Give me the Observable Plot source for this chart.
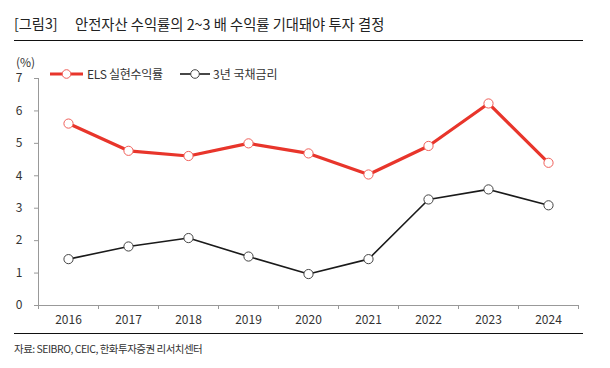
<!DOCTYPE html>
<html><head><meta charset="utf-8">
<script src="https://cdn.jsdelivr.net/npm/d3@7"></script>
<script src="https://cdn.jsdelivr.net/npm/@observablehq/plot@0.6"></script>
<style>
body{margin:0;background:#fff;font-family:"Noto Sans CJK KR","Noto Sans",sans-serif;}
#wrap{position:relative;width:610px;height:368px;overflow:hidden;}
#chart{position:absolute;left:0;top:0;}
.abs{position:absolute;white-space:nowrap;color:#222;}
</style></head>
<body><div id="wrap"><div id="chart"></div></div>
<script>
const years = [2016, 2017, 2018, 2019, 2020, 2021, 2022, 2023, 2024];
const elsReturn = [5.61, 4.77, 4.61, 5.00, 4.69, 4.04, 4.92, 6.23, 4.40];
const bondYield = [1.43, 1.82, 2.08, 1.51, 0.97, 1.43, 3.27, 3.58, 3.09];
const yTicks = [0, 1, 2, 3, 4, 5, 6, 7];
const seriesNames = ["ELS 실현수익률", "3년 국채금리"];
const titleTag = "[그림3]";
const titleText = "안전자산 수익률의 2~3 배 수익률 기대돼야 투자 결정";
const sourceText = "자료: SEIBRO, CEIC, 한화투자증권 리서치센터";

const data = years.map((y, i) => ({year: y, els: elsReturn[i], bond: bondYield[i]}));
const bounds = [years[0] - 0.5, ...years.map(y => y + 0.5)];
const red = "#e8352b";

const plot = Plot.plot({
  width: 610, height: 368,
  marginTop: 78, marginBottom: 63, marginLeft: 38, marginRight: 32,
  style: {fontFamily: '"Noto Sans CJK KR","Noto Sans",sans-serif', fontSize: "12px", color: "#333", background: "transparent"},
  x: {type: "linear", domain: [bounds[0], bounds[bounds.length - 1]]},
  y: {domain: [0, 7]},
  marks: [
    Plot.ruleX([bounds[0]], {stroke: "#999", strokeWidth: 1}),
    Plot.ruleY([0], {stroke: "#999", strokeWidth: 1}),
    Plot.axisY({ticks: yTicks, tickSize: 4, tickPadding: 12, stroke: "#999", label: null, tickFormat: d => String(d), fill: "#333"}),
    Plot.axisX({ticks: bounds, tickSize: 4, tickFormat: () => "", stroke: "#999", label: null}),
    Plot.axisX({ticks: years, tickSize: 0, tickPadding: 10, tickFormat: d => String(d), label: null, fill: "#333"}),
    Plot.line(data, {x: "year", y: "bond", stroke: "#1a1a1a", strokeWidth: 1.6}),
    Plot.line(data, {x: "year", y: "els", stroke: red, strokeWidth: 3.2}),
    Plot.dot(data, {x: "year", y: "bond", r: 4.6, fill: "#fff", stroke: "#444", strokeWidth: 1}),
    Plot.dot(data, {x: "year", y: "els", r: 4.6, fill: "#fff", stroke: "#f0605a", strokeWidth: 1})
  ]
});
document.getElementById("chart").appendChild(plot);

const wrap = document.getElementById("wrap");
function addDiv(html, css) { const d = document.createElement("div"); d.className = "abs"; d.style.cssText = css; d.innerHTML = html; wrap.appendChild(d); return d; }
addDiv(titleTag, "left:14px;top:13px;font-size:14.2px;");
addDiv(titleText, "left:75px;top:13px;font-size:14.3px;");
addDiv("", "left:14px;top:40px;width:569px;height:0;border-top:1.3px solid #111;");
addDiv("(%)", "left:16px;top:53px;font-size:12px;color:#333;");
addDiv("", "left:14px;top:333px;width:569px;height:0;border-top:1.3px solid #111;");
addDiv(sourceText, "left:14px;top:341px;font-size:10.5px;color:#333;letter-spacing:-0.5px;");

// legend
const leg = [
  {x: 50, w: 33, c: red, sw: 3.2, dc: "#f0605a", tx: 87, name: seriesNames[0], ls: "-0.3px"},
  {x: 180, w: 30, c: "#1a1a1a", sw: 1.6, dc: "#444", tx: 213, name: seriesNames[1], ls: "0px"}
];
leg.forEach(l => {
  addDiv(`<svg width="${l.w + 2}" height="12"><line x1="1" y1="6" x2="${l.w + 1}" y2="6" stroke="${l.c}" stroke-width="${l.sw}"/><circle cx="${l.w / 2 + 1}" cy="6" r="4.3" fill="#fff" stroke="${l.dc}" stroke-width="1"/></svg>`, `left:${l.x - 1}px;top:68px;line-height:0;`);
  addDiv(l.name, `left:${l.tx}px;top:65px;font-size:12px;color:#333;letter-spacing:${l.ls};`);
});
</script></body></html>
